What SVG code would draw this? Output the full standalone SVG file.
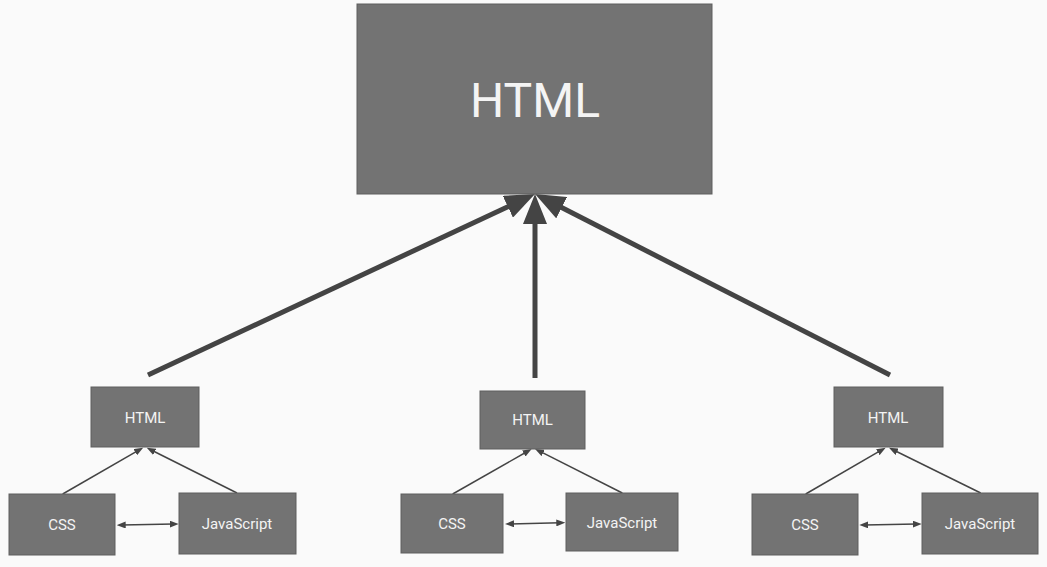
<svg xmlns="http://www.w3.org/2000/svg" width="1047" height="567" viewBox="0 0 1047 567">
<style>
.node{fill:#737373;stroke:#5e5e5e;stroke-width:1}
.lbl{font-family:Roboto,"Liberation Sans",sans-serif;fill:#f4f4f4;text-anchor:middle}
.sm{font-size:15px}
.big{stroke:#444;stroke-width:5;fill:none}
.small{stroke:#444;stroke-width:1.5;fill:none}
</style>
<defs>
<marker id="bigHead" markerUnits="userSpaceOnUse" markerWidth="30" markerHeight="24" refX="10" refY="12" orient="auto">
<path d="M0,0 L30,12 L0,24 z" fill="#444"/>
</marker>
<marker id="smallHead" markerUnits="userSpaceOnUse" markerWidth="9" markerHeight="7" refX="4" refY="3.5" orient="auto-start-reverse">
<path d="M0,0 L9,3.5 L0,7 z" fill="#444"/>
</marker>
</defs>
<rect width="1047" height="567" fill="#fafafa"/>
<g id="connectors">
<line class="big" x1="148" y1="375" x2="516.9" y2="202.5" marker-end="url(#bigHead)"/>
<line class="big" x1="535" y1="378" x2="535" y2="214" marker-end="url(#bigHead)"/>
<line class="big" x1="890" y1="375" x2="552.8" y2="203.1" marker-end="url(#bigHead)"/>
<line class="small" x1="62.7" y1="494" x2="138.8" y2="450.2" marker-end="url(#smallHead)"/>
<line class="small" x1="237" y1="493" x2="151.2" y2="450" marker-end="url(#smallHead)"/>
<line class="small" x1="121.7" y1="525" x2="173.7" y2="524" marker-start="url(#smallHead)" marker-end="url(#smallHead)"/>
<line class="small" x1="452.7" y1="494" x2="527.3" y2="451.5" marker-end="url(#smallHead)"/>
<line class="small" x1="622.3" y1="493" x2="539.5" y2="451.2" marker-end="url(#smallHead)"/>
<line class="small" x1="510" y1="523.9" x2="560.3" y2="522.8" marker-start="url(#smallHead)" marker-end="url(#smallHead)"/>
<line class="small" x1="805.7" y1="494" x2="881.3" y2="450.2" marker-end="url(#smallHead)"/>
<line class="small" x1="980.7" y1="493" x2="893.5" y2="450" marker-end="url(#smallHead)"/>
<line class="small" x1="864.3" y1="525" x2="916.7" y2="524" marker-start="url(#smallHead)" marker-end="url(#smallHead)"/>
</g>
<g id="html-main">
<rect class="node" x="357" y="4" width="355" height="190"/>
<text class="lbl" x="535" y="117" font-size="48">HTML</text>
</g>
<g id="html-1">
<rect class="node" x="91" y="387" width="108" height="60"/>
<text class="lbl sm" x="145" y="423">HTML</text>
</g>
<g id="css-1">
<rect class="node" x="9" y="494" width="106" height="61"/>
<text class="lbl sm" x="62" y="530">CSS</text>
</g>
<g id="js-1">
<rect class="node" x="179" y="493" width="117" height="61"/>
<text class="lbl sm" x="237" y="529">JavaScript</text>
</g>
<g id="html-2">
<rect class="node" x="480" y="391" width="105" height="58"/>
<text class="lbl sm" x="532.5" y="425">HTML</text>
</g>
<g id="css-2">
<rect class="node" x="401" y="494" width="102" height="59"/>
<text class="lbl sm" x="452" y="529">CSS</text>
</g>
<g id="js-2">
<rect class="node" x="566" y="493" width="112" height="58"/>
<text class="lbl sm" x="622" y="528">JavaScript</text>
</g>
<g id="html-3">
<rect class="node" x="834" y="387" width="109" height="60"/>
<text class="lbl sm" x="888" y="423">HTML</text>
</g>
<g id="css-3">
<rect class="node" x="752" y="494" width="106" height="61"/>
<text class="lbl sm" x="805" y="530">CSS</text>
</g>
<g id="js-3">
<rect class="node" x="922" y="493" width="116" height="61"/>
<text class="lbl sm" x="980" y="529">JavaScript</text>
</g>
</svg>
